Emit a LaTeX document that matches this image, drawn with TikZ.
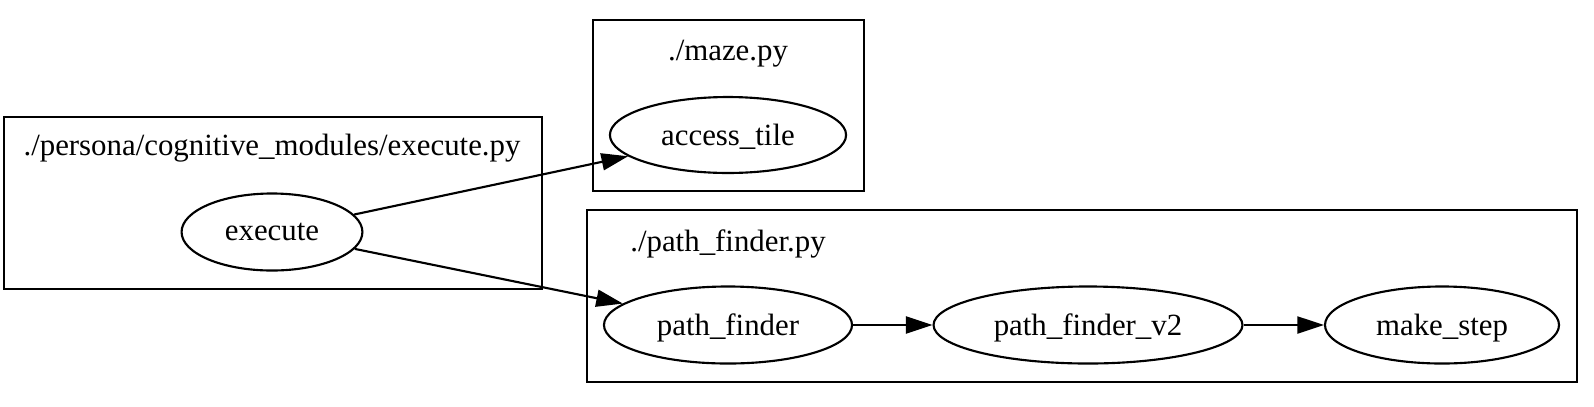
\documentclass[tikz,border=0pt]{standalone}
\usepackage{fontspec}
\setmainfont{Liberation Serif}
\usetikzlibrary{shapes.geometric,arrows.meta}
\begin{document}
\begin{tikzpicture}[x=0.47pt,y=-0.47pt,
  fn/.style={draw,ellipse,line width=1pt,inner sep=0pt,minimum height=36.2pt,text depth=0pt,font=\fontsize{14.5}{16}\selectfont},
  cl/.style={draw,line width=1pt},
  lbl/.style={font=\fontsize{14.5}{16}\selectfont,inner sep=0pt},
  conn/.style={line width=1pt,-{Triangle[length=12.5pt,width=8pt]}}]
\useasboundingbox (0,0) rectangle (1594,406);
% clusters
\draw[cl] (4,117) rectangle (542,289);
\node[lbl] (t1) at (272,148) {./persona/cognitive\_modules/execute.py};
\draw[cl] (593,20) rectangle (864,191);
\node[lbl] (t2) at (728,54) {./maze.py};
\draw[cl] (587,210) rectangle (1577,382);
\node[lbl] (t3) at (728,244) {./path\_finder.py};
% nodes
\node[fn,minimum width=85pt] (execute) at (272,232) {execute};
\node[fn,minimum width=111pt,minimum height=35.7pt] (access) at (728,135) {access\_tile};
\node[fn,minimum width=116.6pt] (pf) at (728,325) {path\_finder};
\node[fn,minimum width=145.2pt] (pf2) at (1088,325) {path\_finder\_v2};
\node[fn,minimum width=110pt] (ms) at (1442,325) {make\_step};
% edges
\draw[conn] (execute) -- (access);
\draw[conn] (execute) -- (pf);
\draw[conn] (pf) -- (pf2);
\draw[conn] (pf2) -- (ms);
\end{tikzpicture}
\end{document}
